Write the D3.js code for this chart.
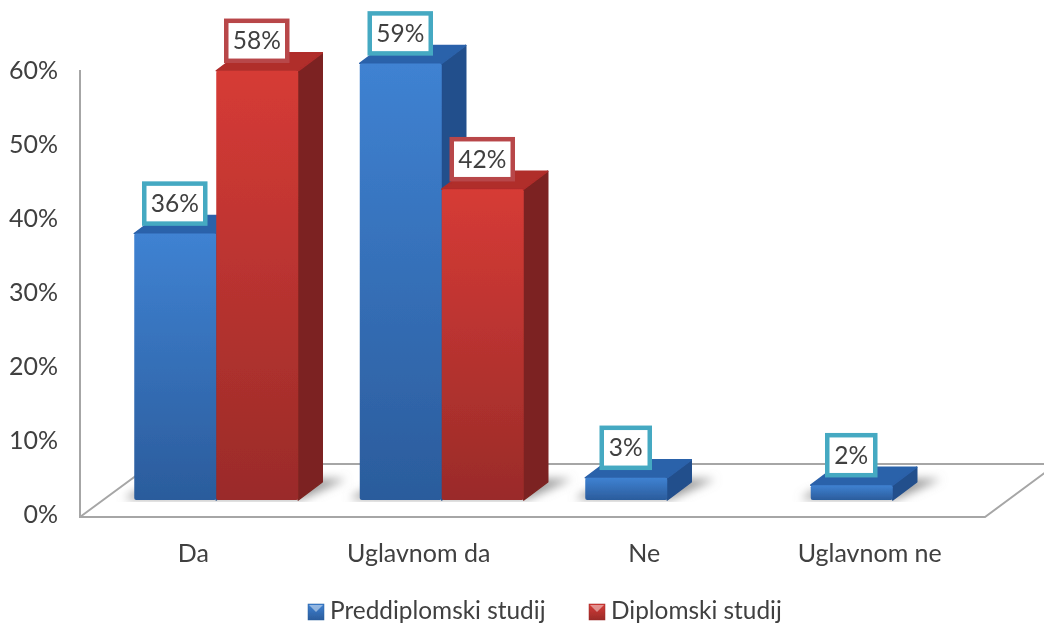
<!DOCTYPE html>
<html lang="en">
	<head>
		<meta charset="utf-8">
		<title>Chart</title>
		<script src="https://cdnjs.cloudflare.com/ajax/libs/d3/7.8.5/d3.min.js"></script>
		<style>
			body{
				margin: 0px;
				overflow: hidden;
				background: #fff;
			}
			text{
				font-family: Lato, sans-serif;
				fill: #404040;
			}
			.tick text{
				font-size: 25px;
				fill: #404040;
				font-family: Lato, sans-serif;
			}
			.cat-label{
				font-size: 25px;
				text-anchor: middle;
			}
			.legend-label{
				font-size: 24.4px;
			}
			.value-label{
				font-size: 24.5px;
				text-anchor: middle;
			}
		</style>
	</head>
	<body>
		<script>
			const categories = ['Da', 'Uglavnom da', 'Ne', 'Uglavnom ne'];
			const seriesNames = ['Preddiplomski studij', 'Diplomski studij'];
			const preddiplomski = [36, 59, 3, 2];
			const diplomski = [58, 42, null, null];
			const yTicks = [0, 10, 20, 30, 40, 50, 60];

			const width = 1044;
			const height = 625;

			// depth of the fake 3d box
			const depthX = 24;
			const depthY = 18;
			const floorLift = 14;   // bars stand this far behind the front edge
			const barWidth = 82;

			const colors = [
				{top: '#2c62aa', side: '#234f8c', light: '#3f82d2', dark: '#2b5c9c', border: '#45a9c2'},
				{top: '#b02d2b', side: '#7c2420', light: '#d63b36', dark: '#9a2b29', border: '#b8464a'}
			];

			const root = d3.select('body').append('svg')
				.attr('width', width)
				.attr('height', height);

			const defs = root.append('defs');
			colors.forEach((c, i) => {
				const grad = defs.append('linearGradient')
					.attr('id', 'front' + i)
					.attr('x1', 0).attr('y1', 0).attr('x2', 0).attr('y2', 1);
				grad.append('stop').attr('offset', '0%').attr('stop-color', c.light);
				grad.append('stop').attr('offset', '100%').attr('stop-color', c.dark);
			});
			defs.append('filter').attr('id', 'soft')
				.attr('x', '-20%').attr('y', '-50%').attr('width', '140%').attr('height', '200%')
				.append('feGaussianBlur').attr('stdDeviation', 5);
			// the source picture is a slightly washed out scan
			defs.append('filter').attr('id', 'scan')
				.attr('filterUnits', 'userSpaceOnUse')
				.attr('x', 0).attr('y', 0).attr('width', width).attr('height', height)
				.append('feGaussianBlur').attr('stdDeviation', 0.45);

			const svg = root.append('g').attr('filter', 'url(#scan)');

			const xScale = d3.scaleBand()
				.domain(categories)
				.range([103.5, 1005.5]);

			const seriesScale = d3.scaleBand()
				.domain(d3.range(seriesNames.length))
				.range([xScale.bandwidth() / 2 - barWidth, xScale.bandwidth() / 2 + barWidth]);

			const yScale = d3.scaleLinear()
				.domain([0, 60])
				.range([514, 70]);

			const poly = d3.line();

			const yAxis = d3.axisLeft(yScale)
				.tickValues(yTicks)
				.tickFormat(d => d + '%')
				.tickSize(0)
				.tickPadding(22);
			const yAxisG = svg.append('g')
				.attr('transform', 'translate(80,0)')
				.call(yAxis);
			yAxisG.selectAll('.domain').remove();

			const cols = [preddiplomski, diplomski];
			const marks = [];
			categories.forEach((cat, ci) => {
				cols.forEach((vals, si) => {
					if (vals[ci] !== null) {
						marks.push({cat: cat, series: si, value: vals[ci]});
					}
				});
			});

			const barX = d => xScale(d.cat) + seriesScale(d.series);
			const barBase = yScale(0) - floorLift;
			const barTop = d => yScale(d.value) - floorLift;

			// soft shadow lying on the floor
			categories.forEach((cat, ci) => {
				const n = cols.filter(v => v[ci] !== null).length;
				const x0 = xScale(cat) + seriesScale(0);
				const x1 = x0 + n * barWidth;
				svg.append('path')
					.attr('fill', '#9a9a9a')
					.attr('filter', 'url(#soft)')
					.attr('d', poly([
						[x0 - 10, barBase - 1],
						[x1 + 4, barBase - 1],
						[x1 + depthX + 24, barBase - depthY - 3],
						[x1, barBase - depthY - 3],
						[x0, barBase - 8]
					]) + 'Z');
			});
			// white band under the bars
			svg.append('g').selectAll('rect')
				.data(categories)
				.enter()
				.append('rect')
				.attr('x', d => xScale(d) - 10)
				.attr('y', barBase + 2)
				.attr('width', xScale.bandwidth())
				.attr('height', 12)
				.attr('fill', '#fff');

			// floor and the left wall edge
			const floorFront = 517;
			const floorBack = 464;
			const floorG = svg.append('g')
				.attr('fill', 'none')
				.attr('stroke', '#a6a6a6')
				.attr('stroke-width', 2);
			floorG.append('path').attr('d', poly([[80, yScale(60)], [80, floorFront], [985, floorFront], [1058, floorBack - 1]]));
			floorG.append('path').attr('d', poly([[80, floorFront], [152, floorBack], [1058, floorBack]]));

			// bars
			const barG = svg.append('g').selectAll('g')
				.data(marks)
				.enter()
				.append('g');

			barG.append('path')
				.attr('fill', d => colors[d.series].side)
				.attr('stroke', d => colors[d.series].side)
				.attr('stroke-width', 1.5)
				.attr('stroke-linejoin', 'round')
				.attr('d', d => {
					const r = barX(d) + barWidth;
					return poly([[r, barTop(d)], [r + depthX, barTop(d) - depthY], [r + depthX, barBase - depthY], [r, barBase]]) + 'Z';
				});

			barG.append('path')
				.attr('fill', d => colors[d.series].top)
				.attr('stroke', d => colors[d.series].top)
				.attr('stroke-width', 1.5)
				.attr('stroke-linejoin', 'round')
				.attr('d', d => {
					const l = barX(d);
					const r = l + barWidth;
					return poly([[l, barTop(d)], [l + depthX, barTop(d) - depthY], [r + depthX, barTop(d) - depthY], [r, barTop(d)]]) + 'Z';
				});

			barG.append('rect')
				.attr('x', barX)
				.attr('y', barTop)
				.attr('width', barWidth)
				.attr('height', d => barBase - barTop(d))
				.attr('rx', 2)
				.attr('fill', d => 'url(#front' + d.series + ')');

			// value boxes
			const labelG = svg.append('g').selectAll('g')
				.data(marks)
				.enter()
				.append('g');

			const boxWidth = d => d.value < 10 ? 48 : 61;
			const boxHeight = 40;
			const boxGap = 10;

			labelG.append('rect')
				.attr('x', d => barX(d) + barWidth / 2 - boxWidth(d) / 2 - 0.5)
				.attr('y', d => barTop(d) - boxGap - boxHeight)
				.attr('width', boxWidth)
				.attr('height', boxHeight)
				.attr('fill', '#fff')
				.attr('stroke', d => colors[d.series].border)
				.attr('stroke-width', 4.5);

			labelG.append('text')
				.attr('class', 'value-label')
				.attr('x', d => barX(d) + barWidth / 2 - 0.5)
				.attr('y', d => barTop(d) - boxGap - boxHeight / 2)
				.attr('dy', '0.35em')
				.text(d => d.value + '%');

			// category labels
			svg.append('g').selectAll('text')
				.data(categories)
				.enter()
				.append('text')
				.attr('class', 'cat-label')
				.attr('x', d => xScale(d) + xScale.bandwidth() / 2 - 23)
				.attr('y', 553)
				.attr('dy', '0.35em')
				.text(d => d);

			// legend
			const legendX = [308, 589];
			const legendG = svg.append('g').selectAll('g')
				.data(seriesNames)
				.enter()
				.append('g')
				.attr('transform', (d, i) => `translate(${legendX[i]},604)`);

			legendG.append('rect')
				.attr('width', 16)
				.attr('height', 16)
				.attr('fill', (d, i) => 'url(#front' + i + ')')
				.attr('stroke', (d, i) => colors[i].dark)
				.attr('stroke-width', 0.5);
			legendG.append('path')
				.attr('fill', '#fff')
				.attr('opacity', 0.45)
				.attr('d', poly([[1, 1], [15, 1], [8, 8]]) + 'Z');
			legendG.append('text')
				.attr('class', 'legend-label')
				.attr('x', 22)
				.attr('y', 6)
				.attr('dy', '0.35em')
				.text(d => d);
		</script>
	</body>
</html>
